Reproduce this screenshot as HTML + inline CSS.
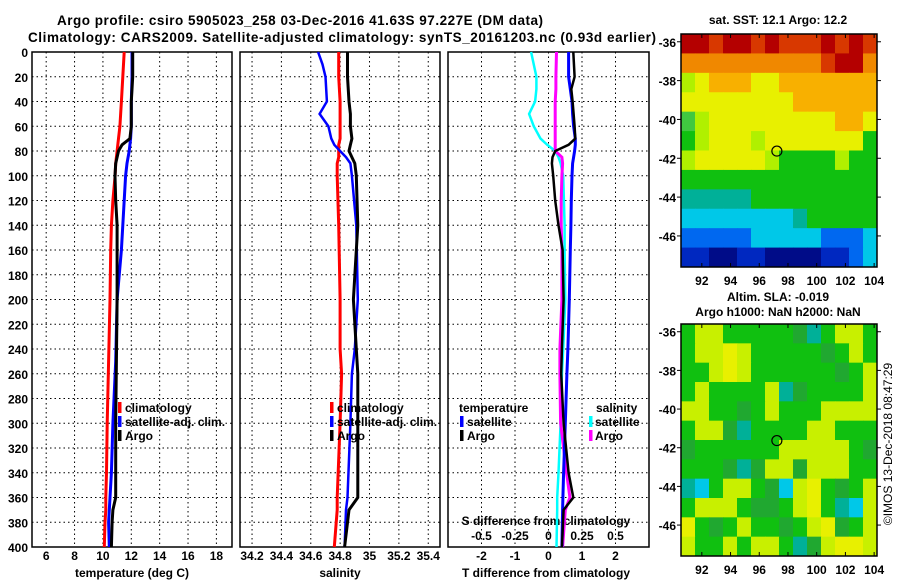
<!DOCTYPE html>
<html><head><meta charset="utf-8">
<style>
html,body{margin:0;padding:0;background:#fff;}
svg{display:block;font-family:"Liberation Sans",sans-serif;font-weight:bold;}
</style></head>
<body>
<svg id="chart" width="900" height="580" viewBox="0 0 900 580" xmlns="http://www.w3.org/2000/svg">
<rect width="900" height="580" fill="#fff"/>
<text x="300" y="25" font-size="13.5" text-anchor="middle" textLength="486">Argo profile: csiro 5905023_258 03-Dec-2016 41.63S 97.227E (DM data)</text>
<text x="342" y="42" font-size="13.5" text-anchor="middle" textLength="628">Climatology: CARS2009. Satellite-adjusted climatology: synTS_20161203.nc (0.93d earlier)</text>
<g id="g"></g>
</svg>
<script>
// ---- depth levels (m) ----
const tDepth=[0,20,40,60,70,75,80,90,100,120,140,160,200,250,300,340,360,370,380,400];
const tClim=[11.5,11.4,11.3,11.2,11.1,11.05,11.0,10.9,10.86,10.7,10.6,10.55,10.5,10.4,10.3,10.25,10.2,10.2,10.15,10.1];
const tSat=[12.05,12.05,12.0,12.0,11.95,11.9,11.85,11.7,11.6,11.5,11.4,11.3,11.0,10.9,10.7,10.6,10.5,10.45,10.4,10.45];
const tArgo=[12.1,12.1,12.0,12.0,11.9,11.35,11.1,10.9,10.85,10.9,11.0,11.0,11.0,10.95,10.9,10.9,10.9,10.7,10.65,10.6];
const sDepth=[0,10,20,40,50,60,70,75,80,85,90,100,140,200,240,260,300,360,370,400];
const sClim=[34.79,34.79,34.79,34.8,34.8,34.8,34.8,34.79,34.79,34.79,34.78,34.78,34.79,34.8,34.8,34.81,34.8,34.78,34.78,34.76];
const sSat=[34.65,34.68,34.7,34.71,34.66,34.72,34.74,34.76,34.8,34.84,34.87,34.88,34.91,34.92,34.9,34.88,34.87,34.85,34.84,34.83];
const sArgo=[34.85,34.85,34.85,34.86,34.87,34.87,34.88,34.87,34.86,34.88,34.9,34.91,34.92,34.89,34.91,34.92,34.92,34.92,34.86,34.83];
const dDepth=[0,20,30,40,50,60,70,75,80,85,90,100,120,140,160,200,240,260,300,340,360,370,400];
const dTsat=[0.6,0.6,0.65,0.7,0.72,0.75,0.8,0.8,0.78,0.75,0.72,0.7,0.68,0.67,0.65,0.62,0.58,0.55,0.5,0.45,0.43,0.42,0.4];
const dTargo=[0.74,0.78,0.68,0.72,0.75,0.78,0.8,0.6,0.2,0.12,0.1,0.14,0.2,0.3,0.42,0.45,0.4,0.38,0.45,0.6,0.74,0.45,0.4];
const dSsat=[-0.13,-0.09,-0.09,-0.1,-0.145,-0.11,-0.06,-0.01,0.05,0.075,0.09,0.11,0.115,0.12,0.12,0.125,0.11,0.1,0.09,0.075,0.065,0.065,0.06];
const dSargo=[0.06,0.055,0.055,0.05,0.05,0.05,0.05,0.05,0.05,0.1,0.105,0.1,0.095,0.095,0.1,0.1,0.085,0.085,0.09,0.135,0.16,0.125,0.105];
const depthTicks=[0,20,40,60,80,100,120,140,160,180,200,220,240,260,280,300,320,340,360,380,400];
const tTicks=[6,8,10,12,14,16,18];
const sTicks=[34.2,34.4,34.6,34.8,35,35.2,35.4];
const sTickLabels=["34.2","34.4","34.6","34.8","35","35.2","35.4"];
const dTTicks=[-2,-1,0,1,2];
const dSTicks=[-0.5,-0.25,0,0.25,0.5];
const dSTickLabels=["-0.5","-0.25","0","0.25","0.5"];
const lonTicks=[92,94,96,98,100,102,104];
const latTicks=[-36,-38,-40,-42,-44,-46];
const argoLon=97.227, argoLat=-41.63;
const sstRows=["RRrRRrRrrrRrRr","oooooooooorRRo","lYOOOYYOOOOOOO","YYYYYYYYOOOOOO","GlYYYYYYYYYOOY","glYYYlYYYYYYYg","lYYYYYlgggglgg","gggggggggggggg","tttttggggggggg","cccccccctggggg","bbbbbcccccbbbc","BBnnBBnnnnBBbc"];
const slaRows=["gyygggggdtgyyg","gyyYygggggdgyg","ggyYyggggggdgy","gyggggytdggggy","yyggdgygggyyyy","gyydtggggyyggg","dggggggyyyyygd","gggdtdyydyyygg","tcgyygdcyYgdgy","gyyygddgyYgtcy","YgdgyggdgyYdgy","yggygyygtdyYYy"];
const pal={R:"#b40000",r:"#d83800",o:"#f08800",O:"#f8b000",Y:"#e8f000",l:"#b0f000",G:"#40c840",g:"#10c010",t:"#00b098",c:"#00c8e8",b:"#0068f0",B:"#0028c0",n:"#000c88",y:"#c8f000",d:"#20a830"};

const NS="http://www.w3.org/2000/svg";
const G=document.getElementById('g');
function mk(tag,attrs,parent){const e=document.createElementNS(NS,tag);for(const k in attrs)e.setAttribute(k,attrs[k]);(parent||G).appendChild(e);return e;}
const top0=52,bot=547;
function yD(d){return top0+(bot-top0)*d/400;}
function lin(d0,d1,r0,r1){return v=>r0+(v-d0)*(r1-r0)/(d1-d0);}
const panels=[
 {x0:32,x1:232,sc:lin(5,19.1,32,232),name:'temperature'},
 {x0:240,x1:440,sc:lin(34.118,35.48,240,440),name:'salinity'},
 {x0:448,x1:649,sc:lin(-3,3,448,649),name:'difference'}
];
const sScale=lin(-0.75,0.75,448,649);

function frame(p,ticks){
  const g=mk('g',{});
  
  
  depthTicks.forEach(d=>{
    const l=mk('line',{x1:p.x0,x2:p.x1,y1:yD(d),y2:yD(d),stroke:'#000','stroke-width':1,'stroke-dasharray':'1.5,3'},g);
    
    
  });
  ticks.forEach(v=>{
    const x=p.sc(v);
    const l=mk('line',{x1:x,x2:x,y1:top0,y2:bot,stroke:'#000','stroke-width':1,'stroke-dasharray':'1.5,3'},g);
    
    
  });
  const r=mk('rect',{x:p.x0,y:top0,width:p.x1-p.x0,height:bot-top0,fill:'none',stroke:'#000','stroke-width':1.5},g);
  
  
  return g;
}
function txt(x,y,s,opts,name){const t=mk('text',Object.assign({x:x,y:y,'font-size':12},opts||{}));t.textContent=s;
  
  
  return t;}
function profile(xs,ds,sc,color,name,w){
  const pts=xs.map((v,i)=>sc(v).toFixed(1)+','+yD(ds[i]).toFixed(1)).join(' ');
  const pl=mk('polyline',{points:pts,fill:'none',stroke:color,'stroke-width':w||3,'stroke-linejoin':'miter'});
  
  
}
function legMark(x,y,color){const r=mk('rect',{x:x,y:y-10,width:3.5,height:11,fill:color});
  
  }

frame(panels[0],tTicks);frame(panels[1],sTicks);frame(panels[2],dTTicks);
depthTicks.forEach(d=>txt(28,yD(d)+5,String(d),{'text-anchor':'end'},'depth-tick-label'));
tTicks.forEach(v=>txt(panels[0].sc(v),560,String(v),{'text-anchor':'middle'},'temperature-tick-label'));
sTicks.forEach((v,i)=>txt(panels[1].sc(v),560,sTickLabels[i],{'text-anchor':'middle'},'salinity-tick-label'));
dTTicks.forEach(v=>txt(panels[2].sc(v),560,String(v),{'text-anchor':'middle'},'t-diff-tick-label'));
dSTicks.forEach((v,i)=>txt(sScale(v),540,dSTickLabels[i],{'text-anchor':'middle'},'s-diff-tick-label'));
txt(546,525,'S difference from climatology',{'text-anchor':'middle'},'s-diff-axis-title');
txt(132,577,'temperature (deg C)',{'text-anchor':'middle'},'x-axis-title-temperature');
txt(340,577,'salinity',{'text-anchor':'middle'},'x-axis-title-salinity');
txt(546,577,'T difference from climatology',{'text-anchor':'middle'},'x-axis-title-t-diff');

profile(tClim,tDepth,panels[0].sc,'#ff0000','temperature-climatology-line');
profile(tSat,tDepth,panels[0].sc,'#0000ff','temperature-satellite-line');
profile(tArgo,tDepth,panels[0].sc,'#000','temperature-argo-line');
profile(sClim,sDepth,panels[1].sc,'#ff0000','salinity-climatology-line');
profile(sSat,sDepth,panels[1].sc,'#0000ff','salinity-satellite-line',2.5);
profile(sArgo,sDepth,panels[1].sc,'#000','salinity-argo-line');
profile(dSsat,dDepth,sScale,'#00ffff','s-diff-satellite-line',2.5);
profile(dSargo,dDepth,sScale,'#ff00ff','s-diff-argo-line');
profile(dTsat,dDepth,panels[2].sc,'#0000ff','t-diff-satellite-line');
profile(dTargo,dDepth,panels[2].sc,'#000','t-diff-argo-line',2.5);

[[118,'climatology','#ff0000'],[118,'satellite-adj. clim.','#0000ff'],[118,'Argo','#000']].forEach((e,i)=>{legMark(e[0],412+i*14,e[2]);txt(e[0]+7,412+i*14,e[1],{},'legend-entry-temperature');});
[[330,'climatology','#ff0000'],[330,'satellite-adj. clim.','#0000ff'],[330,'Argo','#000']].forEach((e,i)=>{legMark(e[0],412+i*14,e[2]);txt(e[0]+7,412+i*14,e[1],{},'legend-entry-salinity');});
txt(459,412,'temperature',{},'legend-heading-temperature');
legMark(460,426,'#0000ff');txt(467,426,'satellite',{},'legend-entry-t-satellite');
legMark(460,440,'#000');txt(467,440,'Argo',{},'legend-entry-t-argo');
txt(596,412,'salinity',{},'legend-heading-salinity');
legMark(589,426,'#00ffff');txt(595,426,'satellite',{},'legend-entry-s-satellite');
legMark(589,440,'#ff00ff');txt(595,440,'Argo',{},'legend-entry-s-argo');

function map(y0,y1,rows,name){
  const x0=681,x1=877;
  const lonS=lin(90.55,104.2,x0,x1), latS=lin(-35.6,-47.6,y0,y1);
  const g=mk('g',{});
  
  
  const nr=rows.length,nc=rows[0].length;
  rows.forEach((row,i)=>{for(let j=0;j<nc;j++){
    const la0=-35.6-12*i/nr, la1=-35.6-12*(i+1)/nr;
    const lo0=90.55+13.65*j/nc, lo1=90.55+13.65*(j+1)/nc;
    const c=mk('rect',{x:lonS(lo0),y:latS(la0),width:lonS(lo1)-lonS(lo0)+0.5,height:latS(la1)-latS(la0)+0.5,fill:pal[row[j]]},g);
    
    
  }});
  const f=mk('rect',{x:x0,y:y0,width:x1-x0,height:y1-y0,fill:'none',stroke:'#000','stroke-width':1.5},g);
  
  
  lonTicks.forEach(v=>{const x=lonS(v);mk('line',{x1:x,x2:x,y1:y0,y2:y0+4,stroke:'#000'},g);mk('line',{x1:x,x2:x,y1:y1,y2:y1-4,stroke:'#000'},g);
    txt(x,y1+18,String(v),{'text-anchor':'middle'},'longitude-tick-label');});
  latTicks.forEach(v=>{const y=latS(v);mk('line',{x1:x0,x2:x0-4,y1:y,y2:y,stroke:'#000'},g);mk('line',{x1:x1,x2:x1+4,y1:y,y2:y,stroke:'#000'},g);
    txt(x0-5,y+5,String(v),{'text-anchor':'end'},'latitude-tick-label');});
  const c=mk('circle',{cx:lonS(argoLon),cy:latS(argoLat),r:5,fill:'none',stroke:'#000','stroke-width':1.2},g);
  
  
}
map(34,267,sstRows,'sst-map');
map(324,556,slaRows,'sla-map');
txt(778,24,'sat. SST: 12.1 Argo: 12.2',{'text-anchor':'middle'},'sst-map-title');
txt(778,301,'Altim. SLA: -0.019',{'text-anchor':'middle'},'sla-map-title');
txt(778,316,'Argo h1000: NaN h2000: NaN',{'text-anchor':'middle'},'sla-map-subtitle');
txt(0,0,'©IMOS 13-Dec-2018 08:47:29',{'text-anchor':'middle','font-weight':'normal','transform':'translate(892,444) rotate(-90)'},'copyright-timestamp');
</script>
</body></html>
